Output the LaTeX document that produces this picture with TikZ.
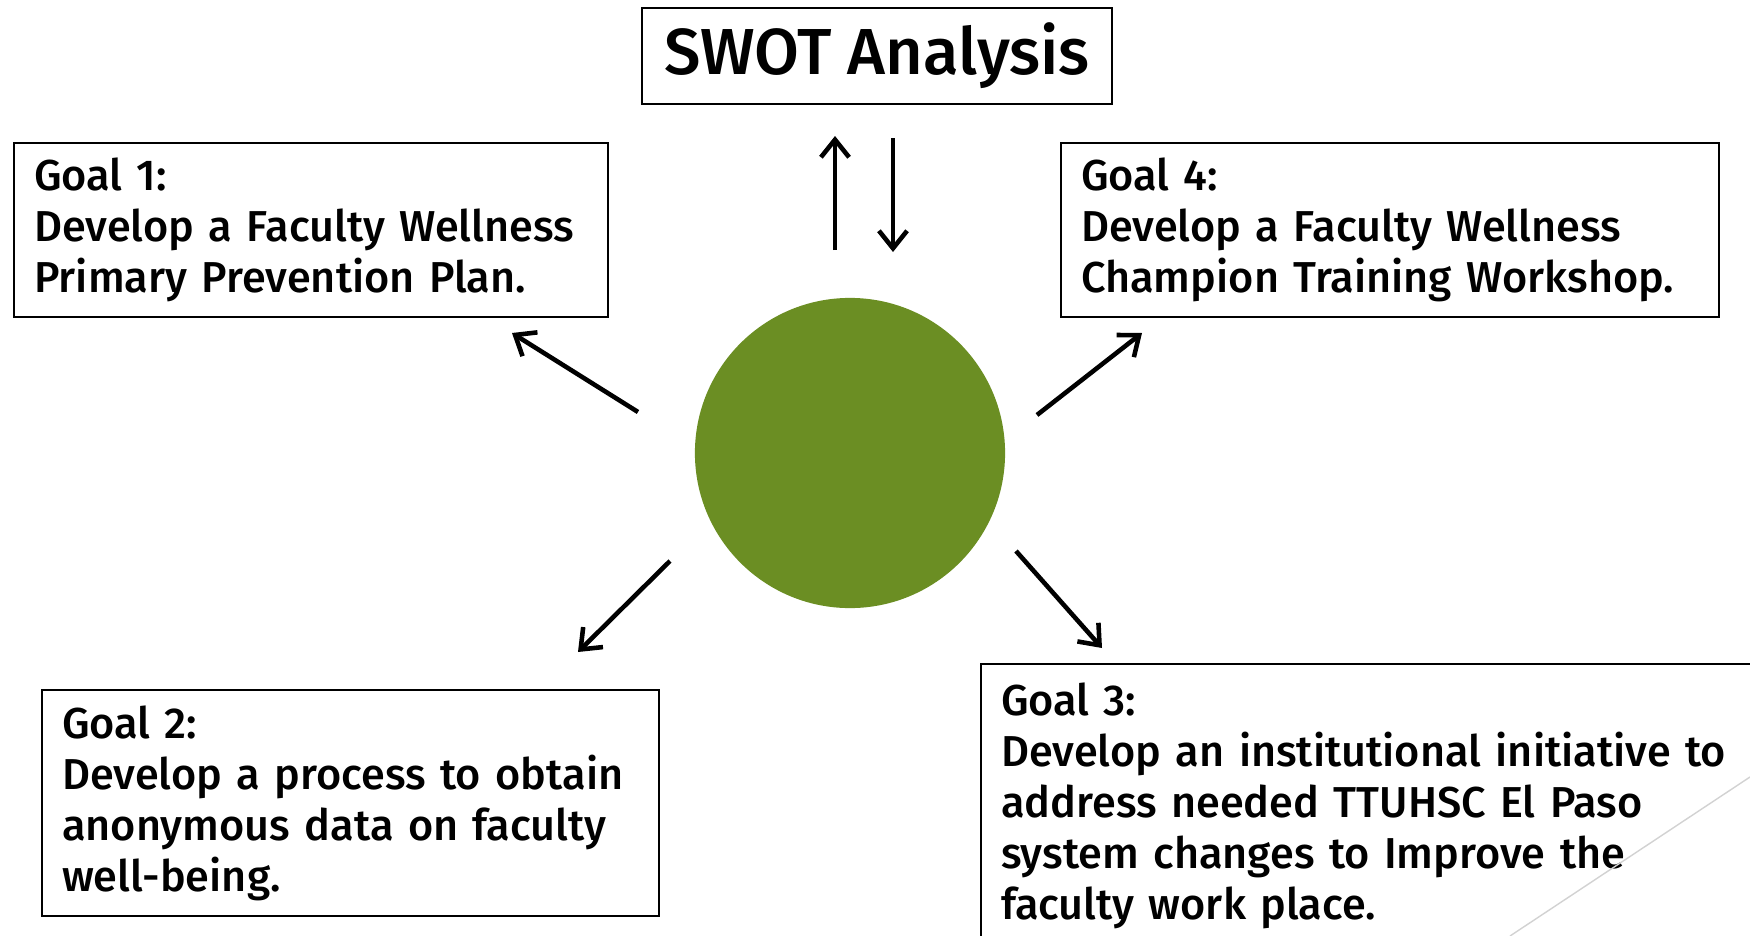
\documentclass[tikz,border=0pt]{standalone}
\usepackage{fontspec}
\setmainfont{Fira Sans}[UprightFont=*-Medium,BoldFont=*-SemiBold]
\usetikzlibrary{arrows.meta,positioning}
\definecolor{swotgreen}{HTML}{6B8E23}
\tikzset{
 >={Straight Barb[length=5pt,width=8pt]},
 goalbox/.style={draw,line width=0.6pt,anchor=north west,align=left,inner xsep=0.2cm,
   font=\fontsize{12.3}{14.5}\selectfont},
 flow/.style={->,line width=1.3pt}
}

\begin{document}
\begin{tikzpicture}[x=0.01cm,y=-0.01cm]

\useasboundingbox (0,0) rectangle (1750,936);
\clip (0,0) rectangle (1750,936);

\path (877,56) node[draw,line width=0.6pt,minimum width=4.70cm,minimum height=0.96cm,
  font=\fontsize{18.5}{22}\selectfont,name=swot] {SWOT Analysis};

\path (850,453) node[circle,fill=swotgreen,minimum size=3.1cm,inner sep=0pt,name=hub] {};

\path (13,142) node[goalbox,text width=5.54cm,minimum height=1.74cm,name=goal1]
  {Goal 1:\\Develop a Faculty Wellness\\Primary Prevention Plan.};
\path (1060,142) node[goalbox,text width=6.18cm,minimum height=1.74cm,name=goal4]
  {Goal 4:\\Develop a Faculty Wellness\\Champion Training Workshop.};
\path (41,689) node[goalbox,text width=5.77cm,minimum height=2.26cm,name=goal2]
  {Goal 2:\\Develop a process to obtain\\anonymous data on faculty\\well-being.};
\path (980,663) node[goalbox,text width=7.4cm,minimum height=2.84cm,name=goal3]
  {Goal 3:\\Develop an institutional initiative to\\address needed TTUHSC El Paso\\system changes to Improve the\\faculty work place.};

% arrow ends
\coordinate (up0) at (835,250);   \coordinate (up1) at (835,136);
\coordinate (dn0) at (893,138);   \coordinate (dn1) at (893,252);
\coordinate (g1a) at (638,412);   \coordinate (g1b) at (512,333);
\coordinate (g4a) at (1037,415);  \coordinate (g4b) at (1142,333);
\coordinate (g2a) at (670,561);   \coordinate (g2b) at (578,652);
\coordinate (g3a) at (1016,551);  \coordinate (g3b) at (1102,648);

\path[flow] (up0) edge (up1);
\path[flow] (dn0) edge (dn1);
\path[flow] (g1a) edge (g1b);
\path[flow] (g4a) edge (g4b);
\path[flow] (g2a) edge (g2b);
\path[flow] (g3a) edge (g3b);

\draw[gray!35,line width=0.4pt] (1510,936) -- (1750,777);

\end{tikzpicture}
\end{document}
